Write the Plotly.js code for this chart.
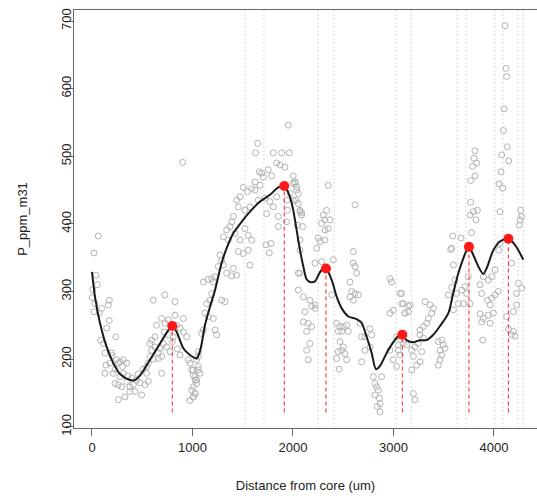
<!DOCTYPE html>
<html>
<head>
<meta charset="utf-8">
<script src="https://cdn.plot.ly/plotly-3.0.1.min.js"></script>
<style>
  html, body { margin: 0; padding: 0; background: #ffffff; }
  #chart { width: 537px; height: 500px; }
</style>
</head>
<body>
<div id="chart"></div>
<script>
// ---- Data ----
// Raw measurements (grey open circles)
const pointX = [
  63,20,40,53,7,0,30,172,162,96,20,73,172,146,236,86,113,129,196,179,139,129,212,245,262,279,312,305,345,312,
  279,229,262,295,345,378,411,444,478,527,560,378,428,494,328,262,544,560,577,594,577,627,660,677,710,743,693,660,776,643,
  726,693,759,826,842,876,909,909,942,876,958,975,693,610,726,826,594,544,627,759,809,992,1008,1025,992,1025,1008,975,1058,1041,
  1058,1058,902,200,230,355,395,460,510,610,720,800,850,
  1953,1648,1628,1804,1887,1963,1837,1871,1920,1665,1688,1754,1788,1705,1622,1672,1589,1506,1622,1546,1473,1439,1456,1522,1572,1655,1721,1771,1837,1804,
  1738,1854,1937,1970,2003,2020,2036,1944,1937,1854,1406,1390,1373,1340,1307,1356,1423,1522,1555,1589,1473,1456,1506,1555,1731,1781,1764,1572,1406,1390,
  1439,1274,1290,1307,1257,1224,1191,1157,1108,1207,1191,1174,1141,1124,1157,1207,1224,1240,1108,1091,1290,1323,1340,1041,1058,1008,1025,1041,1008,1025,
  1008,1075,2053,2053,2070,2070,2003,2086,2053,
  2020,2036,1997,2053,2030,2070,2086,2043,2096,2070,2351,2335,2302,2318,2285,2368,2351,2318,2252,2269,2318,2235,2219,2285,2070,2103,2169,2186,2219,2119,
  2219,2103,2152,2186,2136,2169,2136,2152,2385,2401,2617,2600,2600,2617,2633,2567,2584,2567,2617,2650,2600,2434,2468,2501,2534,2451,2484,2550,2468,2501,
  2484,2451,2517,2434,2461,2534,2667,2683,2716,2766,2783,2716,2683,2766,2799,2816,2832,2849,2816,2859,2866,2839,2866,2882,2965,2982,2965,2998,3081,3098,
  3114,3148,3031,3048,3048,3065,3031,2965,2998,
  4110,4120,4126,4100,4093,4133,4077,4146,4070,4050,4087,4060,3811,3801,3828,3788,3768,3811,3768,3795,3835,3762,3821,3778,4266,4276,4259,4252,3589,3672,
  3569,3596,3612,3579,3629,3679,3645,3712,3745,3728,3762,3695,3596,3546,3861,3894,3944,3977,4010,3878,3934,3977,3961,4010,4043,3861,3894,3878,3944,3994,
  3961,3888,4060,4047,4176,4243,4276,4226,4226,4193,4126,4143,4193,4209,4176,3065,3082,3148,3165,3115,3314,3364,3397,3380,3347,3330,3297,3264,3297,3247,
  3214,3181,3198,3264,3231,3181,3446,3480,3496,3513,3463,3480,3463,3446,3198,3214,3098,3131,3264,3281,3579
];
const pointY = [
  382,357,324,310,303,291,282,287,280,275,270,268,257,246,233,228,223,209,209,194,191,179,179,199,194,196,199,189,194,179,
  174,164,162,159,167,159,162,169,165,162,167,152,152,147,144,140,179,194,204,213,223,218,209,216,223,218,204,201,211,250,
  253,260,258,265,250,246,240,260,233,206,199,194,179,287,295,285,228,189,233,236,233,184,176,169,154,149,144,139,184,164,
  204,211,491,205,185,175,172,178,185,200,240,226,215,
  546,519,505,505,505,505,490,487,484,477,475,480,471,469,462,457,452,454,450,448,440,435,425,420,425,435,438,433,440,425,
  415,411,435,445,471,460,450,420,403,396,411,403,396,391,381,376,386,393,383,376,376,359,356,361,369,371,357,339,334,323,
  324,354,346,339,337,322,319,318,314,314,297,287,282,268,263,260,243,236,243,238,287,285,327,199,189,184,174,169,159,149,
  144,179,327,302,361,420,435,416,430,
  462,455,460,445,435,418,413,398,396,376,457,420,413,406,401,406,393,391,379,374,376,364,342,344,327,292,287,278,280,270,
  275,255,253,248,241,223,213,199,295,347,428,359,342,337,327,314,300,292,297,295,287,253,248,248,250,241,241,241,226,218,
  213,211,208,201,185,199,253,233,233,245,236,213,196,218,174,164,159,154,147,142,134,130,122,174,319,314,268,272,297,282,
  268,270,233,221,213,206,189,213,199,
  693,630,618,570,538,514,502,493,477,459,453,418,508,497,490,485,464,471,432,418,420,413,406,387,420,411,406,398,382,379,
  362,339,317,306,297,302,282,307,322,297,282,282,273,295,310,322,317,322,332,297,287,290,280,295,300,267,260,255,265,268,
  253,228,371,361,342,312,305,297,280,270,263,245,241,234,236,297,282,278,280,268,285,280,275,268,260,253,248,236,231,223,
  218,213,204,196,191,184,226,228,221,216,213,206,199,191,149,140,223,221,243,211,364
];

// Smoothed trend (black line)
const curveX = [0,30,80,146,212,279,378,428,494,577,677,760,799,843,909,975,1042,1080,1124,1174,1224,1290,1340,1406,1489,1572,1672,1771,1854,1913,
  1970,2003,2036,2070,2103,2136,2169,2219,2252,2285,2328,2385,2435,2485,2551,2634,2684,2733,2783,2826,2866,2932,2998,3048,3088,3131,3197,3264,3330,3396,
  3463,3546,3595,3645,3695,3728,3751,3794,3844,3894,3934,3993,4060,4143,4209,4292];
const curveY = [329,292,253,218,194,178,169,169,179,199,223,243,249,240,216,206,201,215,250,277,302,342,364,386,403,418,433,443,454,456,
  440,420,391,361,337,318,314,315,324,332,334,317,292,275,263,259,253,233,209,185,190,209,225,234,236,228,225,228,228,236,
  249,268,298,327,349,361,366,354,337,326,337,361,374,378,369,347];

// Detected peaks (red dots with dashed drop lines)
const peakX = [799, 1913, 2328, 3088, 3751, 4143];
const peakY = [249, 456, 334, 236, 366, 378];
const dropBase = 121;

// Zone boundaries (grey dotted verticals)
const zoneX = [1522, 1711, 2250, 2410, 3025, 3178, 3634, 3719, 4010, 4090, 4241, 4292];

// Axis ticks
const xTicks = [0, 1000, 2000, 3000, 4000];
const yTicks = [100, 200, 300, 400, 500, 600, 700];

// ---- Build traces ----
const dropX = [], dropY = [];
peakX.forEach((x, i) => { dropX.push(x, x, null); dropY.push(dropBase, peakY[i], null); });

const traces = [
  {
    x: pointX, y: pointY, type: 'scatter', mode: 'markers',
    marker: { symbol: 'circle-open', size: 6, color: '#b3b3b3', line: { width: 1, color: '#b3b3b3' } },
    hoverinfo: 'skip'
  },
  {
    x: dropX, y: dropY, type: 'scatter', mode: 'lines',
    line: { color: '#ff2020', width: 1, dash: '4px,3px' }, hoverinfo: 'skip'
  },
  {
    x: curveX, y: curveY, type: 'scatter', mode: 'lines',
    line: { color: '#1a1a1a', width: 2, shape: 'spline', smoothing: 0.8 }, hoverinfo: 'skip'
  },
  {
    x: peakX, y: peakY, type: 'scatter', mode: 'markers',
    marker: { symbol: 'circle', size: 10, color: '#ff1a1a' }, hoverinfo: 'skip'
  }
];

const shapes = zoneX.map(x => ({
  type: 'line', xref: 'x', yref: 'paper', x0: x, x1: x, y0: 0, y1: 1, layer: 'below',
  line: { color: '#dcdcdc', width: 1, dash: '2px,2px' }
}));

const font = { family: 'Liberation Sans, Arial, Helvetica, sans-serif', size: 13, color: '#222' };

const layout = {
  width: 537, height: 500,
  margin: { l: 74, r: 0, t: 10, b: 72, pad: 0 },
  paper_bgcolor: '#ffffff', plot_bgcolor: '#ffffff',
  showlegend: false,
  font: font,
  shapes: shapes,
  xaxis: {
    range: [-179, 4428], tickvals: xTicks, ticktext: xTicks.map(String),
    showgrid: false, zeroline: false,
    showline: true, mirror: true, linecolor: '#666', linewidth: 1,
    ticks: 'outside', ticklen: 7, tickcolor: '#666', tickwidth: 1,
    tickfont: font,
    title: { text: 'Distance from core (um)', font: font, standoff: 27 },
    automargin: false
  },
  yaxis: {
    range: [98.1, 716.3], tickvals: yTicks, ticktext: yTicks.map(String),
    showgrid: false, zeroline: false,
    showline: true, mirror: false, linecolor: '#666', linewidth: 1,
    ticks: 'outside', ticklen: 7, tickcolor: '#666', tickwidth: 1,
    tickangle: -90, tickfont: font, ticklabelstandoff: -10,
    title: { text: 'P_ppm_m31', font: font, standoff: 28 },
    automargin: false
  }
};

Plotly.newPlot('chart', traces, layout, { displayModeBar: false, staticPlot: true });
</script>
</body>
</html>
